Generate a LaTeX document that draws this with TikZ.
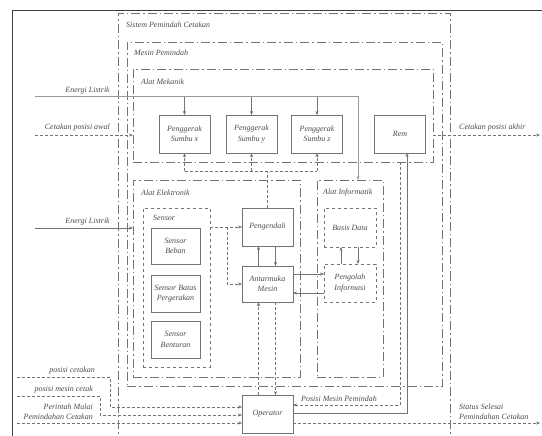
\documentclass[tikz,border=0pt]{standalone}
\usepackage{fontspec}
\setmainfont{Liberation Serif}
\usetikzlibrary{arrows.meta}
\definecolor{lineG}{RGB}{115,115,115}
\definecolor{textG}{RGB}{75,75,75}

\begin{document}
\begin{tikzpicture}[x=1pt, y=-1pt, font=\fontsize{8}{10.5}\selectfont\itshape,
  >={Stealth[length=4pt,width=3pt]},
  grp/.style={rectangle, draw=lineG, dash pattern=on 9pt off 3pt on 1.5pt off 3pt,
              outer sep=0pt, inner sep=0pt},
  blok/.style={rectangle, draw=lineG, align=center, text=textG, minimum width=51pt,
               minimum height=38pt, outer sep=0pt, inner sep=1pt},
  blokd/.style={blok, dashed},
  lbl/.style={text=textG, inner sep=1pt},
  sig/.style={->, lineG, densely dashed},
  pwr/.style={->, black!40, line width=1pt},
  ctl/.style={->, lineG}]
  \useasboundingbox (0,0) rectangle (542,436);
  \draw[black!75, line width=0.8pt] (12,436) -- (12,10) -- (542,10);

  % nested systems
  \node[grp, minimum width=332pt, minimum height=447pt] (sistem) at (284,236.5) {};
  \node[grp, minimum width=315pt, minimum height=344pt] (mesin) at (284.5,214) {};
  \node[grp, minimum width=300pt, minimum height=93pt] (mekanik) at (283,115.5) {};
  \node[grp, minimum width=167pt, minimum height=197pt] (elektronik) at (216.5,278.5) {};
  \node[grp, minimum width=66pt, minimum height=197pt] (informatik) at (350,278.5) {};
  \node[rectangle, draw=lineG, dashed, minimum width=67pt, minimum height=159pt,
        outer sep=0pt, inner sep=0pt] (sensor) at (176.5,287.5) {};
  \node[lbl, anchor=west] (sistemL) at (125,25) {Sistem Pemindah Cetakan};
  \node[lbl, anchor=west] (mesinL) at (133,53) {Mesin Pemindah};
  \node[lbl, anchor=west] (mekanikL) at (140,82) {Alat Mekanik};
  \node[lbl, anchor=west] (elektronikL) at (140,193) {Alat Elektronik};
  \node[lbl, anchor=west] (informatikL) at (322,193) {Alat Informatik};
  \node[lbl, anchor=west] (sensorL) at (152,218) {Sensor};

  % blocks
  \node[blok] (pgx) at (184.5,134) {Penggerak\\Sumbu x};
  \node[blok] (pgy) at (251.5,134) {Penggerak\\Sumbu y};
  \node[blok] (pgz) at (317,134) {Penggerak\\Sumbu z};
  \node[blok] (rem) at (400,134) {Rem};
  \node[blok, minimum width=49pt, minimum height=36pt] (beban) at (175.5,246) {Sensor\\Beban};
  \node[blok, minimum width=49pt, minimum height=37pt] (batas) at (175.5,293.5) {Sensor Batas\\Pergerakan};
  \node[blok, minimum width=49pt, minimum height=37pt] (benturan) at (175.5,339.5) {Sensor\\Benturan};
  \node[blok] (pengendali) at (267.5,227) {Pengendali};
  \node[blok, minimum height=36pt] (antarmuka) at (267.5,284) {Antarmuka\\Mesin};
  \node[blokd, minimum width=52pt, minimum height=39pt] (basis) at (350,227.5) {Basis Data};
  \node[blokd, minimum width=52pt] (pengolah) at (350,283) {Pengolah\\Informasi};
  \node[blok] (operator) at (267.5,414) {Operator};

  % free ends
  \coordinate (el1) at (35,97);
  \coordinate (elc) at (358,97);
  \coordinate (el2) at (35,228);
  \coordinate (ca) at (35,135);
  \coordinate (cb) at (540,135);
  \coordinate (ctlY) at (0,171);
  \coordinate (sb) at (227,227);
  \coordinate (pm) at (400,405);
  \coordinate (rm) at (407,413);
  \coordinate (st) at (540,423);
  \coordinate (pc) at (17,377);
  \coordinate (pmc) at (17,396);
  \coordinate (pmu) at (17,423);

  % power
  \draw[pwr] (el1) -- (elc) -- (informatik.north -| elc);
  \foreach \m in {pgx,pgy,pgz}
    \draw[ctl] (\m.north |- el1) -- (\m.north);
  \draw[ctl] (el2) -- (elektronik.west |- el2);
  \node[lbl, anchor=south east] (el1L) at (111,95) {Energi Listrik};
  \node[lbl, anchor=south east] (el2L) at (111,226) {Energi Listrik};

  % mould in / out
  \draw[sig, line width=0.8pt] (ca) -- (mekanik.west |- ca);
  \draw[sig, line width=0.8pt] (mekanik.east |- cb) -- (cb);
  \node[lbl, anchor=south east] (caL) at (111,132) {Cetakan posisi awal};
  \node[lbl, anchor=south west] (cbL) at (458,132) {Cetakan posisi akhir};

  % control of the drives
  \draw[lineG, densely dashed] (pengendali.north) -- (pengendali.north |- ctlY);
  \draw[lineG, densely dashed] (pgx.south |- ctlY) -- (pgz.south |- ctlY);
  \foreach \m in {pgx,pgy,pgz}
    \draw[sig] (\m.south |- ctlY) -- (\m.south);

  % sensors
  \draw[sig] (sensor.east |- pengendali.west) -- (pengendali.west);
  \draw[sig] (sb) -- (sb |- antarmuka.west) -- (antarmuka.west);
  \draw[ctl] ([xshift=-9pt]antarmuka.north) -- ([xshift=-9pt]pengendali.south);
  \draw[ctl] ([xshift=8pt]pengendali.south) -- ([xshift=8pt]antarmuka.north);

  % informatics
  \draw[ctl] ([xshift=-9pt]pengolah.north) -- ([xshift=-9pt]basis.south);
  \draw[ctl] ([xshift=8pt]basis.south) -- ([xshift=8pt]pengolah.north);
  \draw[ctl] ([yshift=10pt]antarmuka.east) -- ([yshift=10pt]antarmuka.east -| pengolah.west);
  \draw[ctl] ([yshift=-9pt]antarmuka.east -| pengolah.west) -- ([yshift=-9pt]antarmuka.east);

  % operator
  \draw[sig] ([xshift=-9pt]operator.north) -- ([xshift=-9pt]antarmuka.south);
  \draw[sig] ([xshift=8pt]antarmuka.south) -- ([xshift=8pt]operator.north);
  \draw[sig] (rem.south |- mekanik.south) -- (pm) -- (operator.east |- pm);
  \node[lbl, anchor=south west] (pmL) at (300,403) {Posisi Mesin Pemindah};
  \draw[ctl] (operator.east |- rm) -- (rm) -- (rm |- rem.south);
  \draw[sig] (operator.east |- st) -- (st);
  \node[lbl, anchor=south west, align=left] (stL) at (458,421) {Status Selesai\\Pemindahan Cetakan};

  \draw[sig] (pc) -- (110,377) -- (110,407) -- ([yshift=7pt]operator.west);
  \draw[sig] (pmc) -- (100,396) -- (100,415) -- ([yshift=-1pt]operator.west);
  \draw[sig] (pmu) -- ([yshift=-9pt]operator.west);
  \node[lbl, anchor=south east] (pcL) at (96,375) {posisi cetakan};
  \node[lbl, anchor=south east] (pmcL) at (94,394) {posisi mesin cetak};
  \node[lbl, anchor=south east, align=right] (pmuL) at (94,421) {Perintah Mulai\\Pemindahan Cetakan};
\end{tikzpicture}
\end{document}
